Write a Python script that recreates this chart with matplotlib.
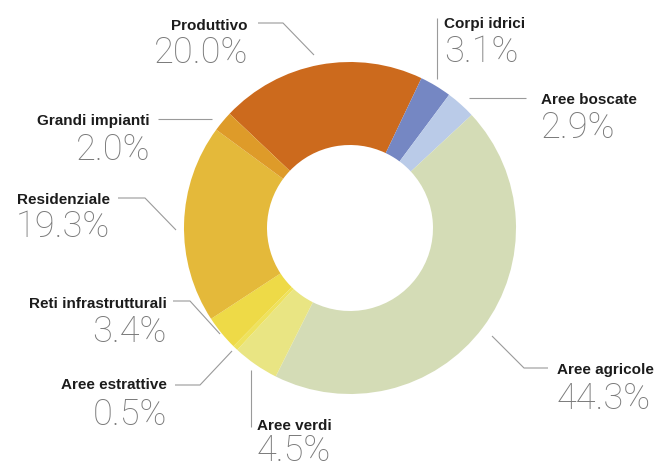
import matplotlib
matplotlib.use("Agg")
import matplotlib.pyplot as plt
from matplotlib import font_manager

categories = ["Produttivo", "Corpi idrici", "Aree boscate", "Aree agricole",
              "Aree verdi", "Aree estrattive", "Reti infrastrutturali",
              "Residenziale", "Grandi impianti"]
shares = [20.0, 3.1, 2.9, 44.3, 4.5, 0.5, 3.4, 19.3, 2.0]
colors = ["#CC6A1D", "#7587C3", "#BACBE8", "#D4DCB6", "#E9E583",
          "#EEE25C", "#EEDA47", "#E4B93A", "#DE9B29"]

# label placement in pixel space (y grows downward):
# (x, label baseline, percent baseline, alignment, leader polyline)
layout = {
    "Produttivo":            (248, 30, 63, "right", [(258, 23), (283, 23), (314, 55)]),
    "Corpi idrici":          (444, 28, 62, "left",  [(437, 18), (437, 79)]),
    "Aree boscate":          (541, 104, 138, "left", [(469, 98), (526, 98)]),
    "Aree agricole":         (557, 374, 409, "left", [(492, 336), (524, 368), (548, 368)]),
    "Aree verdi":            (257, 430, 461, "left", [(251, 370), (251, 427)]),
    "Aree estrattive":       (167, 389, 425, "right", [(175, 385), (200, 385), (232, 351)]),
    "Reti infrastrutturali": (167, 308, 342, "right", [(173, 301), (190, 301), (220, 334)]),
    "Residenziale":          (110, 204, 237, "right", [(118, 198), (145, 198), (176, 230)]),
    "Grandi impianti":       (150, 125, 160, "right", [(158, 119), (212, 119)]),
}

avail = {f.name for f in font_manager.fontManager.ttflist}
label_font = "Liberation Sans" if "Liberation Sans" in avail else "DejaVu Sans"
pct_font = next((f for f in ["Roboto", "Lato", "Open Sans", "Liberation Sans"] if f in avail), "DejaVu Sans")

fig = plt.figure(figsize=(6.7, 4.69), dpi=100)
ax = fig.add_axes([0, 0, 1, 1])

cx, cy, r = 350, 228, 166
ax.pie(shares, colors=colors, center=(cx, cy), radius=r,
       startangle=-136.5, counterclock=True,
       wedgeprops=dict(width=r * 0.5, edgecolor="none"))

ax.set_xlim(0, 670)
ax.set_ylim(469, 0)
ax.set_aspect("equal")
ax.axis("off")

for name, val in zip(categories, shares):
    x, yl, yp, ha, pts = layout[name]
    xs, ys = zip(*pts)
    ax.plot(xs, ys, color="#9a9a9a", lw=0.8, solid_capstyle="butt")
    ax.text(x, yl, name, ha=ha, va="baseline", fontsize=11,
            fontweight="bold", family=label_font, color="#1c1c1c")
    ax.text(x, yp, f"{val:.1f}%", ha=ha, va="baseline", fontsize=26,
            fontweight=100, family=pct_font, color="#7a7a7a")

fig.savefig("out.png", dpi=100, facecolor="white")
